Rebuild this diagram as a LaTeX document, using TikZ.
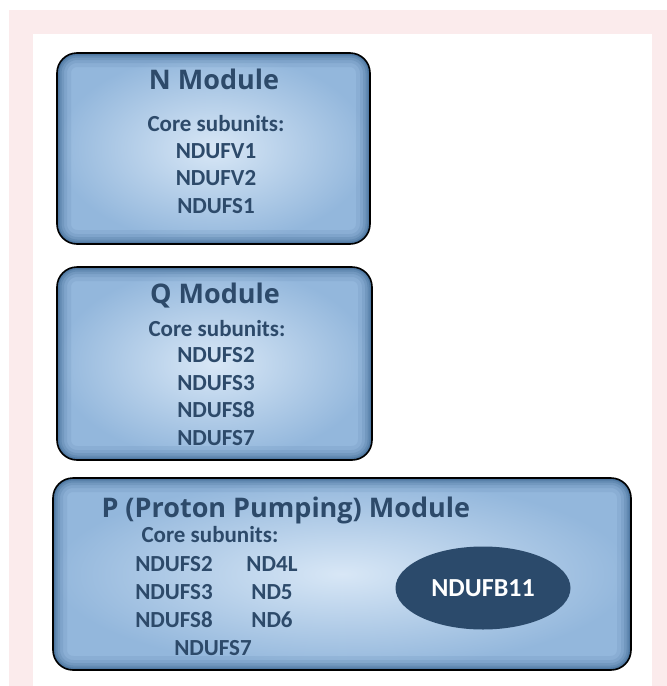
\documentclass[tikz,border=0pt]{standalone}
\usepackage{fontspec}
\setmainfont{Carlito}
\newfontfamily\titlefont{Open Sans}
\usetikzlibrary{shapes.geometric}
\usepackage{xcolor}
\definecolor{mytext}{HTML}{2D4A6A}
\definecolor{mycore}{HTML}{2B4A6B}
\definecolor{mylight}{HTML}{D8E7F6}
\definecolor{mydark}{HTML}{93B7DC}
\definecolor{myedge}{HTML}{24507D}
\definecolor{mypink}{HTML}{FBEBEC}
\tikzset{
  module/.style={draw=black, line width=1.6pt, rounded corners=20pt, inner sep=0pt,
    inner color=mylight, outer color=mydark,
    path picture={
      \foreach \w/\o in {28/0.08, 20/0.10, 14/0.14, 9/0.18, 5/0.24, 2.5/0.3}
        \draw[myedge, line width=\w pt, opacity=\o, rounded corners=20pt]
          (path picture bounding box.south west) rectangle (path picture bounding box.north east);
    }},
  title/.style={font=\titlefont\bfseries\fontsize{27}{30}\selectfont, text=mytext, anchor=base},
  sub/.style={font=\bfseries\fontsize{23}{26}\selectfont, text=mytext, anchor=base},
  core/.style={ellipse, fill=mycore, text=white, inner sep=0pt,
    minimum width=175pt, minimum height=83pt,
    font=\bfseries\fontsize{26}{28}\selectfont}
}

\begin{document}
\begin{tikzpicture}[x=1pt,y=-1pt]
  \useasboundingbox (0,0) rectangle (667,686);

  % --- BACKGROUND ---
  \fill[mypink] (9,10) rectangle (667,686);
  \fill[white] (33,34) rectangle (652,686);

  % --- N MODULE ---
  \node[module, minimum width=313pt, minimum height=191pt] (N-box) at (213.5,148.5) {};
  \node[title] (N-title) at (214,89) {N Module};
  \node[sub] (N-core) at (216,131) {Core subunits:};
  \foreach \name [count=\i] in {NDUFV1,NDUFV2,NDUFS1}
    \node[sub] (N-\i) at (216,131+27.4*\i) {\name};

  % --- Q MODULE ---
  \node[module, minimum width=315pt, minimum height=193pt] (Q-box) at (214.5,363.5) {};
  \node[title] (Q-title) at (215,303) {Q Module};
  \node[sub] (Q-core) at (217,336) {Core subunits:};
  \foreach \name [count=\i] in {NDUFS2,NDUFS3,NDUFS8,NDUFS7}
    \node[sub] (Q-\i) at (216,335+27.5*\i) {\name};

  % --- P (PROTON PUMPING) MODULE ---
  \node[module, minimum width=578pt, minimum height=192pt] (P-box) at (342,574) {};
  \node[title, anchor=base west] (P-title) at (98,517) {P (Proton Pumping) Module};
  \node[sub] (P-core) at (210,542) {Core subunits:};
  % two columns of subunits
  \foreach \name [count=\i] in {NDUFS2,NDUFS3,NDUFS8}
    \node[sub] (P-a\i) at (174,544+27.7*\i) {\name};
  \foreach \name [count=\i] in {ND4L,ND5,ND6}
    \node[sub] (P-b\i) at (272,544+27.7*\i) {\name};
  \node[sub] (P-a4) at (213,655) {NDUFS7};

  % accessory subunit
  \node[core] (ndufb11) at (483,588) {NDUFB11};

\end{tikzpicture}
\end{document}
